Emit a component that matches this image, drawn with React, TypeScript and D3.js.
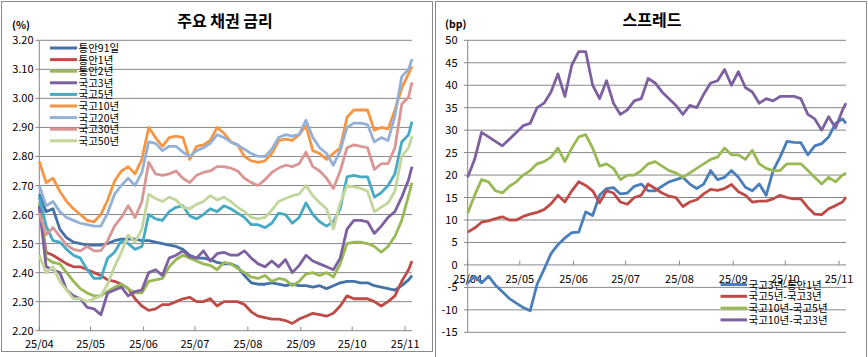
import React from "react";
import * as d3 from "d3";

// ---- Dates (sampled) ----
const dates: string[] = [
  "2025-04-01","2025-04-05","2025-04-09","2025-04-13","2025-04-17","2025-04-21","2025-04-25","2025-04-29",
  "2025-05-03","2025-05-07","2025-05-11","2025-05-15","2025-05-19","2025-05-23","2025-05-27","2025-05-31",
  "2025-06-04","2025-06-08","2025-06-12","2025-06-16","2025-06-20","2025-06-24","2025-06-28",
  "2025-07-02","2025-07-06","2025-07-10","2025-07-14","2025-07-18","2025-07-22","2025-07-26","2025-07-30",
  "2025-08-03","2025-08-07","2025-08-11","2025-08-15","2025-08-19","2025-08-23","2025-08-27","2025-08-31",
  "2025-09-04","2025-09-08","2025-09-12","2025-09-16","2025-09-20","2025-09-24","2025-09-28",
  "2025-10-02","2025-10-06","2025-10-10","2025-10-14","2025-10-18","2025-10-22","2025-10-26","2025-10-30",
  "2025-11-03","2025-11-05",
];

// ---- Left chart: yields (%) ----
const msb91d = [2.67,2.61,2.62,2.55,2.52,2.505,2.50,2.495, 2.495,2.495,2.50,2.51,2.515,2.515,2.515,2.51, 2.51,2.505,2.50,2.495,2.49,2.48,2.46, 2.45,2.45,2.445,2.435,2.43,2.43,2.42,2.39, 2.365,2.36,2.36,2.365,2.36,2.355,2.36,2.355, 2.355,2.35,2.355,2.345,2.355,2.365,2.37, 2.37,2.365,2.365,2.355,2.35,2.345,2.34,2.355, 2.375,2.39];
const msb1y = [2.63,2.47,2.46,2.445,2.43,2.42,2.42,2.41, 2.40,2.39,2.375,2.37,2.36,2.345,2.31,2.285, 2.27,2.275,2.29,2.29,2.30,2.31,2.315, 2.30,2.30,2.31,2.285,2.30,2.30,2.30,2.29, 2.265,2.25,2.245,2.24,2.24,2.235,2.225,2.24, 2.25,2.26,2.255,2.25,2.26,2.285,2.32, 2.31,2.31,2.31,2.30,2.285,2.30,2.32,2.37, 2.41,2.44];
const msb2y = [2.64,2.45,2.435,2.43,2.40,2.37,2.345,2.33, 2.32,2.32,2.335,2.35,2.36,2.345,2.33,2.33, 2.37,2.375,2.38,2.42,2.445,2.46,2.45, 2.44,2.43,2.425,2.41,2.435,2.43,2.415,2.40, 2.385,2.38,2.39,2.37,2.38,2.375,2.355,2.37, 2.395,2.40,2.39,2.40,2.385,2.43,2.50, 2.505,2.505,2.50,2.49,2.47,2.49,2.525,2.58, 2.665,2.71];
const ktb3y = [2.63,2.42,2.41,2.40,2.34,2.32,2.31,2.28, 2.275,2.255,2.33,2.34,2.35,2.32,2.335,2.34, 2.40,2.41,2.39,2.45,2.46,2.475,2.455, 2.45,2.475,2.44,2.465,2.47,2.46,2.46,2.475, 2.45,2.43,2.42,2.44,2.42,2.445,2.40,2.425, 2.46,2.44,2.43,2.42,2.41,2.45,2.55, 2.58,2.58,2.575,2.535,2.56,2.59,2.61,2.66, 2.72,2.765];
const ktb5y = [2.66,2.56,2.51,2.505,2.48,2.46,2.45,2.41, 2.38,2.38,2.45,2.47,2.51,2.50,2.48,2.49, 2.60,2.585,2.58,2.61,2.625,2.63,2.595, 2.585,2.60,2.62,2.61,2.63,2.62,2.605,2.59, 2.565,2.565,2.555,2.57,2.605,2.60,2.57,2.59, 2.64,2.60,2.575,2.56,2.575,2.62,2.73, 2.735,2.73,2.73,2.66,2.675,2.70,2.74,2.85, 2.875,2.92];
const ktb10y = [2.783,2.71,2.725,2.68,2.645,2.62,2.60,2.58, 2.575,2.60,2.65,2.715,2.75,2.765,2.74,2.79, 2.90,2.865,2.835,2.865,2.87,2.865,2.79, 2.835,2.84,2.855,2.90,2.88,2.85,2.84,2.80, 2.785,2.78,2.785,2.81,2.855,2.86,2.855,2.875, 2.905,2.82,2.81,2.79,2.81,2.83,2.935, 2.96,2.96,2.96,2.89,2.90,2.895,2.96,3.035, 3.085,3.11];
const ktb20y = [2.70,2.63,2.645,2.61,2.59,2.58,2.57,2.565, 2.56,2.56,2.605,2.67,2.70,2.725,2.70,2.745, 2.85,2.845,2.82,2.835,2.835,2.815,2.80, 2.82,2.83,2.845,2.875,2.865,2.85,2.84,2.825, 2.81,2.80,2.80,2.825,2.865,2.875,2.87,2.875, 2.925,2.865,2.83,2.81,2.77,2.82,2.90, 2.915,2.915,2.91,2.85,2.865,2.855,2.94,3.075, 3.10,3.135];
const ktb30y = [2.605,2.53,2.555,2.525,2.495,2.48,2.475,2.49, 2.475,2.475,2.51,2.56,2.59,2.63,2.59,2.645, 2.78,2.74,2.735,2.74,2.75,2.725,2.71, 2.735,2.745,2.75,2.765,2.765,2.76,2.75,2.725, 2.71,2.70,2.72,2.745,2.76,2.77,2.765,2.775, 2.815,2.765,2.75,2.725,2.69,2.75,2.83, 2.84,2.835,2.83,2.755,2.775,2.775,2.83,2.98, 3.005,3.055];
const ktb50y = [2.46,2.40,2.42,2.37,2.34,2.31,2.31,2.30, 2.31,2.32,2.36,2.42,2.47,2.53,2.505,2.55, 2.67,2.655,2.645,2.66,2.65,2.625,2.62, 2.635,2.645,2.665,2.65,2.66,2.645,2.625,2.61, 2.59,2.585,2.59,2.615,2.645,2.655,2.665,2.67, 2.70,2.665,2.64,2.62,2.55,2.64,2.70, 2.695,2.69,2.68,2.61,2.625,2.64,2.68,2.80, 2.83,2.87];

const leftNames = ["통안91일","통안1년","통안2년","국고3년","국고5년","국고10년","국고20년","국고30년","국고50년"];
const leftColors = ["#4572A7","#BE4B48","#98B954","#7D60A0","#46AAC5","#F69544","#93B0D6","#D99694","#C3D69B"];
const leftSeries = [msb91d, msb1y, msb2y, ktb3y, ktb5y, ktb10y, ktb20y, ktb30y, ktb50y];
const leftTicks = [2.2,2.3,2.4,2.5,2.6,2.7,2.8,2.9,3.0,3.1,3.2];

// ---- Right chart: spreads (bp) ----
const spr3y1y = [-4,-2.5,-4,-2.5,-4.5,-6,-7.5,-8.5, -9.5,-10.2,-4.3,-1,2.5,4.5,6,7.2, 7.3,11.8,11,15.5,17,17.2,15.8, 16,17.5,18,16.5,16.5,17.5,18.5,19, 19.5,18,17,18,21,19,19.5,21, 19.5,17.3,16.5,18,15.5,21,24, 27.5,27.3,27.2,24.5,26.5,27,28.5,31.5, 32.5,31.5];
const spr5y3y = [7.3,8.2,9.5,9.8,10.3,10.7,10,10, 10.8,11.3,11.7,12.3,13.6,15.5,14,16.5, 18.5,17.7,16.5,13.8,16.5,16,14, 13.5,15,15.5,18,17,16,15.3,15, 13,14,14.5,15.8,16.8,16.6,17,17.9, 16.3,15.5,14,14.2,14.2,14.7,15.5, 15,14.7,14.7,12.8,11.3,11.2,12.5,13.2, 14,15.1];
const spr10y5y = [11.5,15.5,19,18.5,16.5,16,17.5,18.5, 20,21,22.5,23,24,26,23,26, 28.5,29,26,22,22.5,21.5,19, 20,20,21,22.5,23,22,21,20.5, 19.5,20.5,21.5,22.5,23.5,24,26,24.5, 24.5,23.5,25.5,22.5,21.5,21,21, 22.5,22.5,22.5,21,19.5,18,19.5,18.5, 20,20.5];
const spr10y3y = [19.5,23.5,29.5,28.5,27.5,26.5,28,29.5, 31,31.5,35,36,38.5,42.5,37.5,44.5, 47.5,47.5,40,37,41,36,33.5, 34.5,36.5,37,41.5,40.5,38.5,37,35.5, 33.5,35.5,35,38,40.5,41,43.5,40, 43,39.5,38.5,36,37,36.5,37.5, 37.5,37.5,37,33.5,32.5,30,33,30.5, 34.5,36];

const rightNames = ["국고3년-통안1년","국고5년-국고3년","국고10년-국고5년","국고10년-국고3년"];
const rightColors = ["#4A7EBB","#BE4B48","#98B954","#7D60A0"];
const rightSeries = [spr3y1y, spr5y3y, spr10y5y, spr10y3y];
const rightTicks = [-15,-10,-5,0,5,10,15,20,25,30,35,40,45,50];

const monthTicks = ["2025-04-01","2025-05-01","2025-06-01","2025-07-01","2025-08-01","2025-09-01","2025-10-01","2025-11-01"];
const monthLabels = ["25/04","25/05","25/06","25/07","25/08","25/09","25/10","25/11"];

const FONT = "'Noto Sans CJK KR', 'Noto Sans', sans-serif";
const GRID = "#878787";

export default function App() {
  const parsed = dates.map((s) => new Date(s + "T00:00:00Z"));
  const domain: [Date, Date] = [new Date("2025-04-01T00:00:00Z"), new Date("2025-11-05T00:00:00Z")];

  // left scales
  const xL = d3.scaleUtc().domain(domain).range([39.3, 412]);
  const yL = d3.scaleLinear().domain([2.2, 3.2]).range([330.7, 40.3]);
  // right scales
  const xR = d3.scaleUtc().domain(domain).range([467.7, 846]);
  const yR = d3.scaleLinear().domain([-15, 50]).range([332.3, 40.3]);

  const lineL = d3.line<number>().x((_, i) => xL(parsed[i])).y((v) => yL(v));
  const lineR = d3.line<number>().x((_, i) => xR(parsed[i])).y((v) => yR(v));
  const mt = monthTicks.map((s) => new Date(s + "T00:00:00Z"));

  return (
    <svg width={868} height={357} style={{ position: "fixed", left: 0, top: 0, background: "#fff" }} fontFamily={FONT}>
      <rect x={0} y={0} width={868} height={357} fill="#fff" />
      {/* ===== LEFT CHART ===== */}
      <rect x={1.5} y={1.5} width={431} height={350} fill="none" stroke="#8a8a8a" strokeWidth={1} />
      <text x={225} y={27} textAnchor="middle" fontSize={16} fontWeight="bold" fill="#000">주요 채권 금리</text>
      <text x={12} y={29} fontSize={10.5} fontWeight="bold" fill="#000">(%)</text>
      {leftTicks.map((t) => (
        <g key={"lg" + t}>
          <line x1={39.3} x2={412} y1={yL(t)} y2={yL(t)} stroke={GRID} strokeWidth={1} />
          <line x1={35.5} x2={39.3} y1={yL(t)} y2={yL(t)} stroke={GRID} strokeWidth={1} />
          <text x={33.5} y={yL(t) + 4} textAnchor="end" fontSize={11} fill="#000">{t.toFixed(2)}</text>
        </g>
      ))}
      <line x1={39.3} x2={39.3} y1={40.3} y2={330.7} stroke={GRID} strokeWidth={1} />
      {mt.map((d, i) => (
        <g key={"lx" + i}>
          <line x1={xL(d)} x2={xL(d)} y1={330.7} y2={326.5} stroke={GRID} strokeWidth={1} />
          <text x={xL(d)} y={348} textAnchor="middle" fontSize={11} fill="#000">{monthLabels[i]}</text>
        </g>
      ))}
      {leftSeries.map((s, i) => (
        <path key={"lp" + i} d={lineL(s) || ""} fill="none" stroke={leftColors[i]} strokeWidth={2.8} strokeLinejoin="round" />
      ))}
      {leftNames.map((n, i) => {
        const y = 48 + i * 11.6;
        return (
          <g key={"ll" + i}>
            <line x1={50} x2={77} y1={y} y2={y} stroke={leftColors[i]} strokeWidth={3} />
            <text x={78.5} y={y + 4} fontSize={10.5} fill="#000">{n}</text>
          </g>
        );
      })}

      {/* ===== RIGHT CHART ===== */}
      <rect x={435.5} y={1.5} width={431} height={360} fill="none" stroke="#8a8a8a" strokeWidth={1} />
      <text x={652} y={26} textAnchor="middle" fontSize={16} fontWeight="bold" fill="#000">스프레드</text>
      <text x={445} y={28} fontSize={10.5} fontWeight="bold" fill="#000">(bp)</text>
      {rightTicks.map((t) => (
        <g key={"rg" + t}>
          <line x1={467.7} x2={846} y1={yR(t)} y2={yR(t)} stroke={GRID} strokeWidth={1} />
          <line x1={464} x2={467.7} y1={yR(t)} y2={yR(t)} stroke={GRID} strokeWidth={1} />
          <text x={457.5} y={yR(t) + 4} textAnchor="end" fontSize={11} fill="#000">{t}</text>
        </g>
      ))}
      <line x1={467.7} x2={467.7} y1={40.3} y2={332.3} stroke={GRID} strokeWidth={1} />
      {mt.map((d, i) => (
        <g key={"rx" + i}>
          <line x1={xR(d)} x2={xR(d)} y1={yR(0)} y2={yR(0) - 4.2} stroke={GRID} strokeWidth={1} />
          <text x={xR(d)} y={283} textAnchor="middle" fontSize={11} fill="#000">{monthLabels[i]}</text>
        </g>
      ))}
      {rightSeries.map((s, i) => (
        <path key={"rp" + i} d={lineR(s) || ""} fill="none" stroke={rightColors[i]} strokeWidth={2.8} strokeLinejoin="round" />
      ))}
      {rightNames.map((n, i) => {
        const y = 284.5 + i * 11.8;
        return (
          <g key={"rl" + i}>
            <line x1={720.5} x2={747} y1={y} y2={y} stroke={rightColors[i]} strokeWidth={3} />
            <text x={748.5} y={y + 4} fontSize={10.5} fill="#000">{n}</text>
          </g>
        );
      })}
    </svg>
  );
}
